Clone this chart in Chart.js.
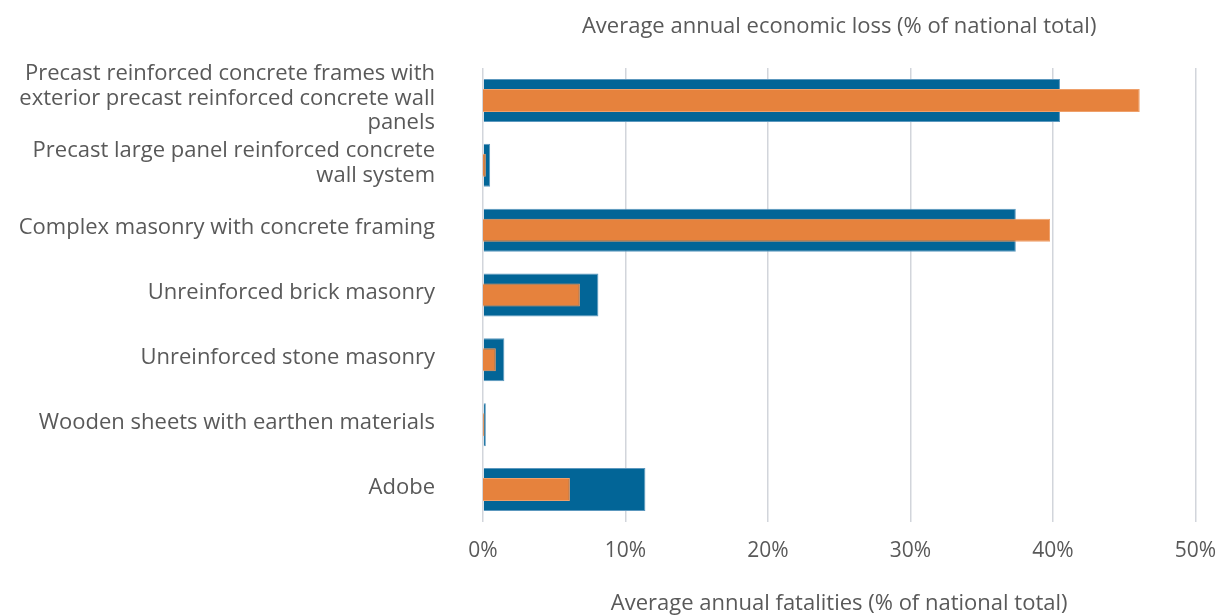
<!DOCTYPE html>
<html>
<head>
<meta charset="utf-8">
<script src="https://cdn.jsdelivr.net/npm/chart.js@4/dist/chart.umd.min.js"></script>
<style>
  html, body { margin: 0; padding: 0; background: #ffffff; }
  #wrap { width: 1232px; height: 615px; position: relative; }
</style>
</head>
<body>
<div id="wrap"><canvas id="c"></canvas></div>
<script>
// Building typologies (multi-line labels as arrays)
const categories = [
  ['Precast reinforced concrete frames with', 'exterior precast reinforced concrete wall', 'panels'],
  ['Precast large panel reinforced concrete', 'wall system'],
  'Complex masonry with concrete framing',
  'Unreinforced brick masonry',
  'Unreinforced stone masonry',
  'Wooden sheets with earthen materials',
  'Adobe'
];

// Share of national total, in percent
const fatalities = [40.5, 0.5, 37.4, 8.1, 1.5, 0.2, 11.4];
const economicLoss = [46.1, 0.2, 39.8, 6.8, 0.9, 0.1, 6.1];

const xTicks = [0, 10, 20, 30, 40, 50];

const FONT = "'Open Sans', 'Noto Sans', sans-serif";
const TEXT = '#595959';

new Chart(document.getElementById('c'), {
  type: 'bar',
  data: {
    labels: categories,
    datasets: [
      {
        label: 'Average annual economic loss (% of national total)',
        data: economicLoss,
        xAxisID: 'xTop',
        backgroundColor: '#E6823D',
        borderColor: '#EFA06A',
        borderWidth: 1,
        grouped: false,
        categoryPercentage: 1,
        barPercentage: 0.355,
        order: 1
      },
      {
        label: 'Average annual fatalities (% of national total)',
        data: fatalities,
        xAxisID: 'x',
        backgroundColor: '#026597',
        borderColor: '#5C98BE',
        borderWidth: 1,
        grouped: false,
        categoryPercentage: 1,
        barPercentage: 0.663,
        order: 2
      }
    ]
  },
  options: {
    indexAxis: 'y',
    responsive: true,
    maintainAspectRatio: false,
    animation: false,
    layout: { padding: { left: 0, right: 34, top: 0, bottom: 0 } },
    plugins: {
      legend: { display: false },
      tooltip: { enabled: false }
    },
    scales: {
      x: {
        position: 'bottom',
        min: 0,
        max: 50,
        afterBuildTicks: (s) => { s.ticks = xTicks.map(v => ({ value: v })); },
        grid: { color: '#D2D5DB', lineWidth: 1.5, drawTicks: false },
        border: { display: false },
        ticks: {
          padding: 16,
          color: TEXT,
          font: { family: FONT, size: 21, lineHeight: 1.2 },
          callback: (v) => v + '%'
        },
        title: {
          display: true,
          text: 'Average annual fatalities (% of national total)',
          color: TEXT,
          font: { family: FONT, size: 22, lineHeight: 1 },
          padding: { top: 0, bottom: 0 }
        },
        afterFit: (s) => { s.height = 93; }
      },
      xTop: {
        position: 'top',
        min: 0,
        max: 50,
        grid: { display: false, drawTicks: false },
        border: { display: false },
        ticks: { display: false },
        title: {
          display: true,
          text: 'Average annual economic loss (% of national total)',
          color: TEXT,
          font: { family: FONT, size: 22, lineHeight: 1 },
          padding: { top: 16, bottom: 0 }
        },
        afterFit: (s) => { s.height = 68; }
      },
      y: {
        grid: { display: false, drawTicks: false },
        border: { display: false },
        ticks: {
          padding: 48,
          labelOffset: -2,
          color: TEXT,
          autoSkip: false,
          font: { family: FONT, size: 22, lineHeight: 1.1 }
        },
        afterFit: (s) => { s.width = 483; }
      }
    }
  }
});
</script>
</body>
</html>
